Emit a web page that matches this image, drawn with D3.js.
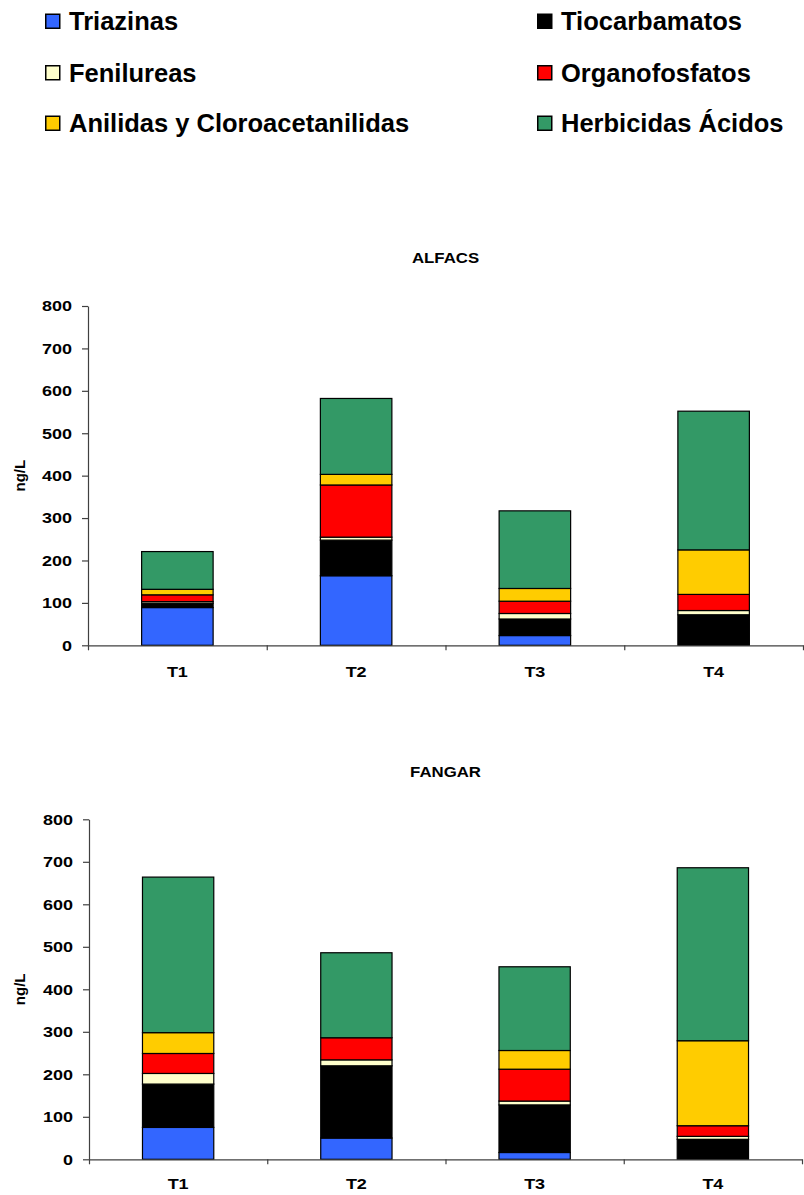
<!DOCTYPE html>
<html>
<head>
<meta charset="utf-8">
<script src="https://cdn.jsdelivr.net/npm/d3@7"></script>
<style>
  html, body { margin: 0; padding: 0; background: #fff; }
  svg { display: block; }
  text { font-family: Arial, "Liberation Sans", sans-serif; font-weight: bold; fill: #000; }
</style>
</head>
<body>
<svg id="chart" width="804" height="1195"></svg>
<script>
// Sampling periods
const categories = ["T1", "T2", "T3", "T4"];

// Herbicide families (stack order, bottom to top)
const seriesNames = [
  "Triazinas",
  "Tiocarbamatos",
  "Fenilureas",
  "Organofosfatos",
  "Anilidas y Cloroacetanilidas",
  "Herbicidas Ácidos"
];
const seriesColors = ["#3366FF", "#000000", "#FFFFCC", "#FF0000", "#FFCC00", "#339966"];

// ALFACS concentrations (ng/L), one array per family
const alfacsTriazinas      = [89, 164, 23, 0];
const alfacsTiocarbamatos  = [10, 84, 39, 72];
const alfacsFenilureas     = [4, 7, 13, 10];
const alfacsOrganofosfatos = [16, 123, 29, 38];
const alfacsAnilidas       = [13, 25, 30, 105];
const alfacsAcidos         = [89, 179, 183, 327];

// FANGAR concentrations (ng/L)
const fangarTriazinas      = [75, 50, 16, 0];
const fangarTiocarbamatos  = [102, 170, 112, 47];
const fangarFenilureas     = [25, 14, 9, 7];
const fangarOrganofosfatos = [47, 52, 75, 25];
const fangarAnilidas       = [49, 0, 44, 200];
const fangarAcidos         = [366, 200, 197, 407];

const yTicks = [0, 100, 200, 300, 400, 500, 600, 700, 800];
const yLabel = "ng/L";

const svg = d3.select("#chart");

// ---- Legend (two columns, three rows) ----
const legendCols = [45, 537];
const legendRows = [13.5, 65, 115.5];
const legend = svg.append("g");
seriesNames.forEach((name, i) => {
  const col = i % 2, row = Math.floor(i / 2);
  const g = legend.append("g")
    .attr("transform", `translate(${legendCols[col]},${legendRows[row]})`);
  g.append("rect")
    .attr("x", 0.75).attr("y", 0.75)
    .attr("width", 14).attr("height", 14)
    .attr("fill", seriesColors[i])
    .attr("stroke", "#000").attr("stroke-width", 1.5);
  g.append("text")
    .attr("x", 24).attr("y", 16.8)
    .style("font-size", "25.5px")
    .text(name);
});

// ---- Stacked bar panel ----
function panel(opts) {
  const { title, rows, x0, x1, yTop, yBottom, titleY, labelY } = opts;
  const table = categories.map((c, j) => {
    const d = { cat: c };
    seriesNames.forEach((s, i) => d[s] = rows[i][j]);
    return d;
  });
  const stacked = d3.stack().keys(seriesNames)(table);

  const x = d3.scaleBand().domain(categories).range([x0, x1])
    .paddingInner(0.6).paddingOuter(0.3);
  const y = d3.scaleLinear().domain([0, 800]).range([yBottom, yTop]);
  const boundaries = d3.scaleLinear().domain([0, categories.length]).range([x0, x1]);

  const g = svg.append("g");
  const sx = 1.2; // horizontal stretch of the chart lettering

  // bars
  stacked.forEach((layer, i) => {
    g.append("g").selectAll("rect")
      .data(layer.filter(d => d[1] - d[0] > 0))
      .join("rect")
      .attr("x", d => x(d.data.cat))
      .attr("width", x.bandwidth())
      .attr("y", d => y(d[1]))
      .attr("height", d => y(d[0]) - y(d[1]))
      .attr("fill", seriesColors[i])
      .attr("stroke", "#000")
      .attr("stroke-width", 1.2);
  });

  // y axis
  const ya = g.append("g")
    .attr("transform", `translate(${x0},0)`)
    .call(d3.axisLeft(y).tickValues(yTicks).tickSize(6).tickSizeOuter(0).tickPadding(9));
  ya.selectAll("path, line").attr("stroke", "#404040").attr("stroke-width", 1.2);
  ya.selectAll("text")
    .attr("x", -16 / sx)
    .attr("transform", `scale(${sx},1)`)
    .style("font-size", "15px")
    .style("font-family", "Arial, 'Liberation Sans', sans-serif")
    .style("font-weight", "bold")
    .attr("fill", "#000");

  // x axis with ticks between categories
  const xa = g.append("g")
    .attr("transform", `translate(0,${yBottom})`)
    .call(d3.axisBottom(boundaries).tickValues(d3.range(categories.length + 1))
      .tickSize(5).tickSizeOuter(0).tickFormat(""));
  xa.selectAll("path, line").attr("stroke", "#404040").attr("stroke-width", 1.2);

  // category labels
  g.append("g").selectAll("text")
    .data(categories)
    .join("text")
    .attr("transform", d => `translate(${x(d) + x.bandwidth() / 2},${labelY}) scale(${sx},1)`)
    .attr("text-anchor", "middle")
    .style("font-size", "15px")
    .text(d => d);

  // title
  g.append("text")
    .attr("transform", `translate(${(x0 + x1) / 2},${titleY}) scale(${sx},1)`)
    .attr("text-anchor", "middle")
    .style("font-size", "14px")
    .text(title);

  // y axis title
  g.append("text")
    .attr("transform", `translate(25,${(yTop + yBottom) / 2}) rotate(-90)`)
    .attr("text-anchor", "middle")
    .style("font-size", "15px")
    .text(yLabel);
}

panel({
  title: "ALFACS",
  rows: [alfacsTriazinas, alfacsTiocarbamatos, alfacsFenilureas, alfacsOrganofosfatos, alfacsAnilidas, alfacsAcidos],
  x0: 88, x1: 803, yTop: 306, yBottom: 645.3, titleY: 263, labelY: 676.5
});

panel({
  title: "FANGAR",
  rows: [fangarTriazinas, fangarTiocarbamatos, fangarFenilureas, fangarOrganofosfatos, fangarAnilidas, fangarAcidos],
  x0: 89, x1: 802, yTop: 819.3, yBottom: 1159.3, titleY: 777, labelY: 1189
});
</script>
</body>
</html>
